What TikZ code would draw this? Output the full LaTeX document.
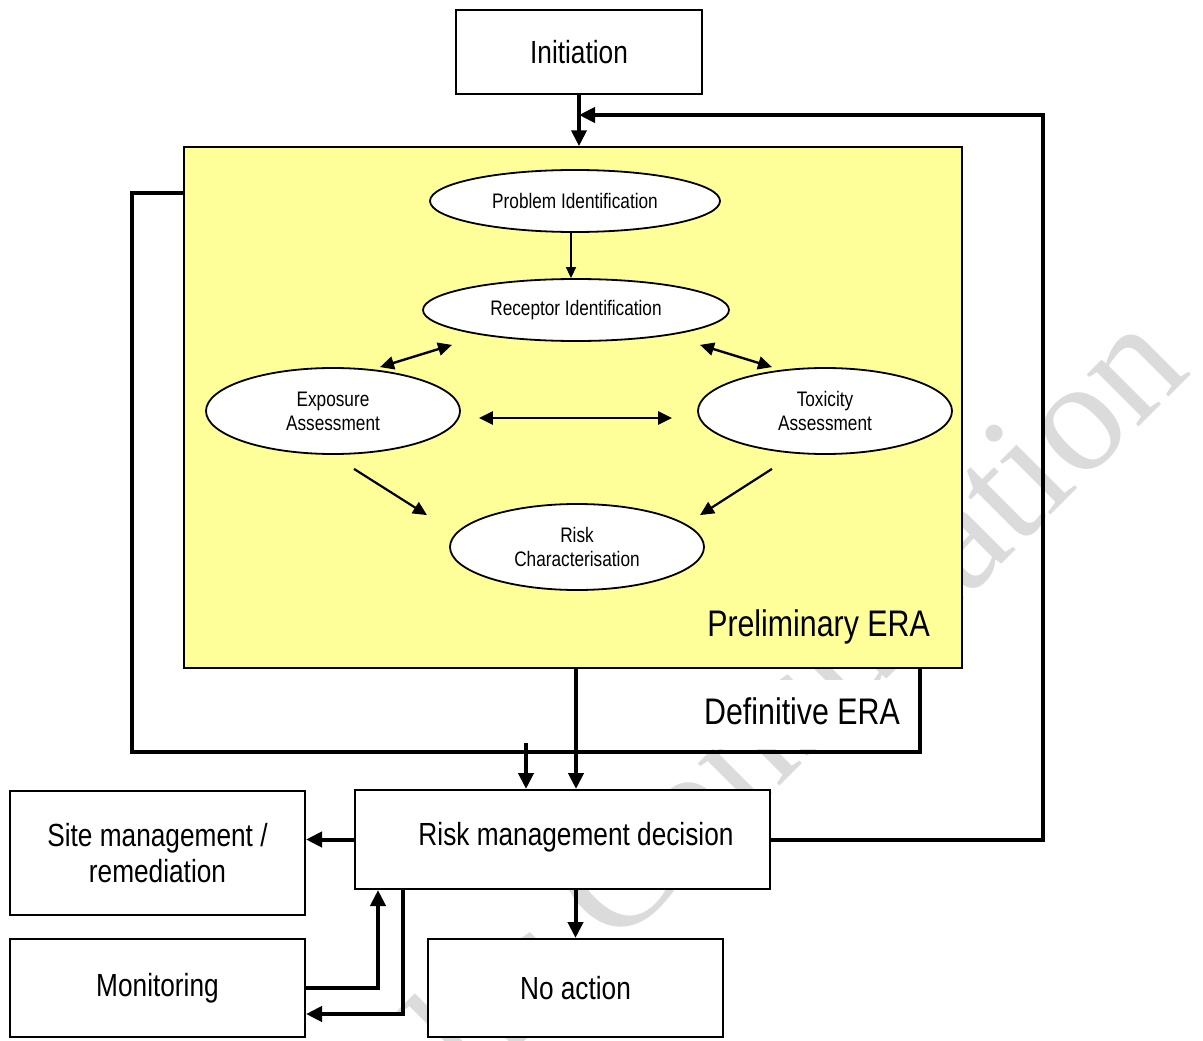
\documentclass[tikz,border=0pt]{standalone}
\usepackage{fontspec}
\setmainfont{Liberation Sans}[FakeStretch=0.82]
\newfontfamily\markfont{Liberation Serif}
\usetikzlibrary{arrows.meta,shapes.geometric,calc}
\definecolor{eraYellow}{HTML}{FFFF99}
\definecolor{markGray}{gray}{0.86}

\begin{document}
\begin{tikzpicture}[x=1pt,y=-1pt,
  boxtext/.style={font=\fontsize{32}{36}\selectfont, align=center},
  box/.style={draw, line width=2pt, fill=white, inner sep=0pt, boxtext},
  ell/.style={ellipse, draw, line width=1.8pt, fill=white, inner sep=0pt, align=center,
    font=\fontsize{21}{24}\selectfont},
  flow/.style={line width=4pt, -{Triangle[length=16pt,width=15pt]}},
  link/.style={line width=2.4pt, {Triangle[length=14pt,width=13pt]}-{Triangle[length=14pt,width=13pt]}},
  feed/.style={line width=2.2pt, -{Triangle[length=14pt,width=13pt]}},
  thin/.style={line width=1.6pt, -{Triangle[length=11pt,width=10pt]}},
  tag/.style={font=\fontsize{37}{40}\selectfont, inner sep=0pt, anchor=base east}
]
\useasboundingbox[fill=white] (0,0) rectangle (1203,1041);

% faint diagonal stamp behind everything
\begin{scope}
  \clip (0,0) rectangle (1203,1041);
  \node[rotate=45, anchor=base west, inner sep=0pt, text=markGray,
        font=\markfont\fontsize{160}{160}\selectfont] (mark) at (297.5,1268.5) {Public Consultation};
\end{scope}

% definitive ERA frame and preliminary ERA panel
\node[draw, line width=4pt, minimum width=788pt, minimum height=559pt, inner sep=0pt] (def) at (526,472.5) {};
\node[draw, line width=1.5pt, fill=eraYellow, minimum width=778pt, minimum height=521pt, inner sep=0pt] (era) at (573,407.5) {};
\node[tag] (prelim) at (930,636) {Preliminary ERA};
\node[fill=white, minimum width=226pt, minimum height=69pt, inner sep=0pt] (defbg) at (803,714.5) {};
\node[tag] (defin) at (900,724) {Definitive ERA};

% assessment steps
\node[ell, minimum width=290pt, minimum height=62pt] (pid) at (575,201) {Problem Identification};
\node[ell, minimum width=306pt, minimum height=62pt] (rid) at (576,310) {Receptor Identification};
\node[ell, minimum width=254pt, minimum height=86pt] (exa) at (333,411) {Exposure\\Assessment};
\node[ell, minimum width=254pt, minimum height=86pt] (tox) at (825,411) {Toxicity\\Assessment};
\node[ell, minimum width=254pt, minimum height=86pt] (risk) at (577,547) {Risk\\Characterisation};

\draw[thin] ([xshift=-4pt]pid.south) -- ([xshift=-5pt]rid.north);
\draw[link] ([xshift=-124pt,yshift=-3pt]rid.south) -- ([xshift=47pt]exa.north);
\draw[link] ([xshift=124pt,yshift=-3pt]rid.south) -- ([xshift=-53pt]tox.north);
\draw[link] ([xshift=18pt,yshift=-7pt]exa.east) -- ([xshift=-25pt,yshift=-7pt]tox.west);
\draw[feed] ([xshift=21pt,yshift=-14pt]exa.south) -- ([xshift=-150pt,yshift=-12pt]risk.north);
\draw[feed] ([xshift=-53pt,yshift=-14pt]tox.south) -- ([xshift=123pt,yshift=-12pt]risk.north);

% process boxes
\node[box, minimum width=246pt, minimum height=84pt] (init) at (579,52) {Initiation};
\node[box, minimum width=415pt, minimum height=99pt,
      label={[boxtext, xshift=13.5pt, yshift=2pt]center:Risk management decision}] (rmd) at (562.5,839.5) {};
\node[box, minimum width=295pt, minimum height=124pt] (site) at (157.5,853) {Site management /\\remediation};
\node[box, minimum width=295pt, minimum height=98pt] (mon) at (157.5,988) {Monitoring};
\node[box, minimum width=295pt, minimum height=98pt] (noact) at (575.5,988) {No action};

% main flow
\draw[flow] (init.south) -- (init.south |- era.north);
\coordinate (fbturn) at (1043,115);
\coordinate (fbin) at (init.south |- fbturn);
\draw[flow] (rmd.east) -| (fbturn) -- (fbin);

\coordinate (eraout) at ([xshift=3pt]era.south);
\draw[flow] (eraout) -- (eraout |- rmd.north);
\coordinate (defout) at ([yshift=11pt]def.south);
\draw[flow] (defout) -- (defout |- rmd.north);

\draw[flow] (rmd.west) -- (rmd.west -| site.east);
\draw[flow] (noact.north |- rmd.south) -- (noact.north);
\draw[flow] (mon.east) -| ([xshift=24pt]rmd.south west);
\draw[flow] ([xshift=49pt]rmd.south west) |- ([yshift=-26pt]mon.east);
\end{tikzpicture}
\end{document}
